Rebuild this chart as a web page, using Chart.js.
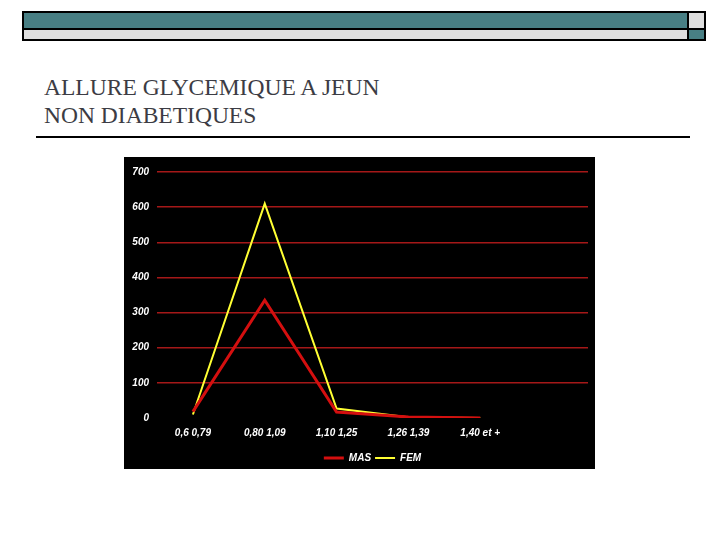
<!DOCTYPE html>
<html>
<head>
<meta charset="utf-8">
<script src="https://cdn.jsdelivr.net/npm/chart.js@4"></script>
<style>
  html, body { margin: 0; padding: 0; background: #ffffff; width: 720px; height: 540px; overflow: hidden; }
  .r { position: absolute; box-sizing: border-box; border: 2px solid #000; }
  .teal { background: #487f84; }
  .grey { background: #dedede; }
  #title { position: absolute; left: 44px; top: 74px; font-family: "Liberation Serif", "Times New Roman", serif;
           font-size: 24px; line-height: 27.5px; color: #3c3c44; white-space: nowrap;
           transform: scaleX(0.98); transform-origin: left top; }
  #rule { position: absolute; left: 36px; top: 136px; width: 654px; height: 2px; background: #000; }
  #box { position: absolute; left: 124px; top: 157px; width: 471px; height: 312px; background: #000; }
</style>
</head>
<body>
<div class="r teal" style="left:22px;top:11px;width:667px;height:19px;"></div>
<div class="r grey" style="left:687px;top:11px;width:19px;height:19px;"></div>
<div class="r grey" style="left:22px;top:28px;width:667px;height:13px;"></div>
<div class="r teal" style="left:687px;top:28px;width:19px;height:13px;"></div>
<div id="title">ALLURE GLYCEMIQUE A JEUN<br>NON DIABETIQUES</div>
<div id="rule"></div>
<div id="box"><canvas id="c" width="471" height="312"></canvas></div>
<script>
const categories = ["0,6 0,79", "0,80 1,09", "1,10 1,25", "1,26 1,39", "1,40 et +", ""];
const masValues = [18, 335, 17, 3, 0];
const femValues = [10, 610, 27, 2, 0];
const yTicks = [0, 100, 200, 300, 400, 500, 600, 700];

const tickFont = { family: "'Liberation Sans', Arial, sans-serif", size: 10, style: 'italic', weight: 'bold' };

const legendShift = {
  id: 'legendShift',
  afterLayout(chart) {
    if (chart.legend) { chart.legend.top += 4; chart.legend.bottom += 4; }
  }
};

new Chart(document.getElementById('c'), {
  type: 'line',
  data: {
    labels: categories,
    datasets: [
      { label: 'MAS', data: masValues, borderColor: '#d40f0f', backgroundColor: '#d40f0f', borderWidth: 3,
        pointRadius: 0, tension: 0, fill: false },
      { label: 'FEM', data: femValues, borderColor: '#ffff33', backgroundColor: '#ffff33', borderWidth: 2,
        pointRadius: 0, tension: 0, fill: false }
    ]
  },
  plugins: [legendShift],
  options: {
    responsive: false,
    animation: false,
    devicePixelRatio: 1,
    layout: { padding: { left: 0, right: 7, top: 15, bottom: 0 } },
    plugins: {
      tooltip: { enabled: false },
      legend: {
        position: 'bottom',
        fullSize: false,
        labels: {
          color: '#ffffff', font: tickFont, usePointStyle: true, pointStyle: 'line',
          pointStyleWidth: 20, boxHeight: 10, padding: 4
        }
      }
    },
    scales: {
      x: {
        offset: true,
        grid: { display: false, drawTicks: false },
        border: { display: false },
        ticks: { color: '#ffffff', font: tickFont, padding: 9, maxRotation: 0, autoSkip: false },
        afterFit: s => { s.height = 27; }
      },
      y: {
        min: 0, max: 700,
        afterBuildTicks: s => { s.ticks = yTicks.map(v => ({ value: v })); },
        grid: { drawTicks: false, lineWidth: 1.5,
                color: ctx => (ctx.tick && ctx.tick.value === 0) ? 'rgba(0,0,0,0)' : '#a51818' },
        border: { display: false },
        ticks: { color: '#ffffff', font: tickFont, padding: 8 },
        afterFit: s => { s.width = 33; }
      }
    }
  }
});
</script>
</body>
</html>
